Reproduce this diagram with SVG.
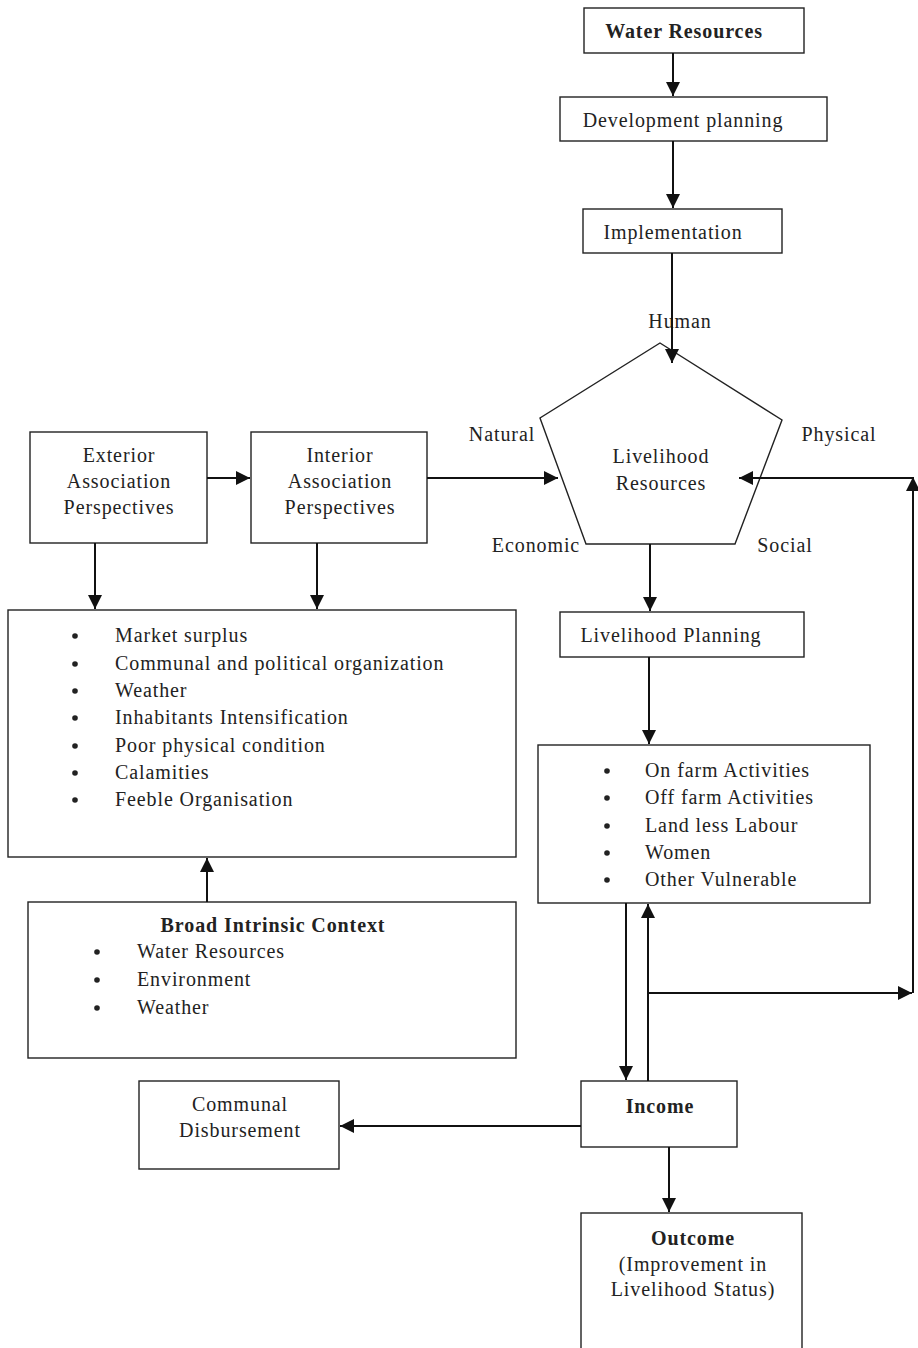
<svg xmlns="http://www.w3.org/2000/svg" width="918" height="1348" viewBox="0 0 918 1348">
<defs>
<marker id="ah" viewBox="0 0 10 10" refX="10" refY="5" markerWidth="14" markerHeight="14" markerUnits="userSpaceOnUse" orient="auto">
<path d="M0,0 L10,5 L0,10 Z" fill="#111"/>
</marker>
</defs>
<style>
.box{fill:#fff;stroke:#222;stroke-width:1.4}
text{font-family:"Liberation Serif","Times New Roman",serif;font-size:20px;letter-spacing:0.9px;fill:#222}
.c{text-anchor:middle}
.b{font-weight:bold}
.con{stroke:#111;stroke-width:2;fill:none}
.dot{fill:#222}
</style>
<rect width="918" height="1348" fill="#fff"/>
<g id="water-resources">
<rect class="box" x="584" y="8" width="220" height="45"/>
<text class="c b" x="684" y="38">Water Resources</text>
</g>
<g id="development-planning">
<rect class="box" x="560" y="97" width="267" height="44"/>
<text class="c" x="683" y="127">Development planning</text>
</g>
<g id="implementation">
<rect class="box" x="583" y="209" width="199" height="44"/>
<text class="c" x="673" y="239">Implementation</text>
</g>
<g id="livelihood-resources">
<polygon class="box" points="660,343 782,420 735,544 586,544 540,418"/>
<text class="c" x="661" y="463">Livelihood</text>
<text class="c" x="661" y="490">Resources</text>
<text class="c" x="680" y="328">Human</text>
<text class="c" x="502" y="441">Natural</text>
<text class="c" x="839" y="441">Physical</text>
<text class="c" x="536" y="552">Economic</text>
<text class="c" x="785" y="552">Social</text>
</g>
<g id="exterior">
<rect class="box" x="30" y="432" width="177" height="111"/>
<text class="c" x="119" y="462">Exterior</text>
<text class="c" x="119" y="488">Association</text>
<text class="c" x="119" y="514">Perspectives</text>
</g>
<g id="interior">
<rect class="box" x="251" y="432" width="176" height="111"/>
<text class="c" x="340" y="462">Interior</text>
<text class="c" x="340" y="488">Association</text>
<text class="c" x="340" y="514">Perspectives</text>
</g>
<g id="factors">
<rect class="box" x="8" y="610" width="508" height="247"/>
<circle class="dot" cx="75" cy="636" r="2.8"/><text x="115" y="642">Market surplus</text>
<circle class="dot" cx="75" cy="664" r="2.8"/><text x="115" y="670">Communal and political organization</text>
<circle class="dot" cx="75" cy="691" r="2.8"/><text x="115" y="697">Weather</text>
<circle class="dot" cx="75" cy="718" r="2.8"/><text x="115" y="724">Inhabitants Intensification</text>
<circle class="dot" cx="75" cy="746" r="2.8"/><text x="115" y="752">Poor physical condition</text>
<circle class="dot" cx="75" cy="773" r="2.8"/><text x="115" y="779">Calamities</text>
<circle class="dot" cx="75" cy="800" r="2.8"/><text x="115" y="806">Feeble Organisation</text>
</g>
<g id="broad-context">
<rect class="box" x="28" y="902" width="488" height="156"/>
<text class="c b" x="273" y="932">Broad Intrinsic Context</text>
<circle class="dot" cx="97" cy="952" r="2.8"/><text x="137" y="958">Water Resources</text>
<circle class="dot" cx="97" cy="980" r="2.8"/><text x="137" y="986">Environment</text>
<circle class="dot" cx="97" cy="1008" r="2.8"/><text x="137" y="1014">Weather</text>
</g>
<g id="livelihood-planning">
<rect class="box" x="560" y="612" width="244" height="45"/>
<text class="c" x="671" y="642">Livelihood Planning</text>
</g>
<g id="activities">
<rect class="box" x="538" y="745" width="332" height="158"/>
<circle class="dot" cx="607" cy="771" r="2.8"/><text x="645" y="777">On farm Activities</text>
<circle class="dot" cx="607" cy="798" r="2.8"/><text x="645" y="804">Off farm Activities</text>
<circle class="dot" cx="607" cy="826" r="2.8"/><text x="645" y="832">Land less Labour</text>
<circle class="dot" cx="607" cy="853" r="2.8"/><text x="645" y="859">Women</text>
<circle class="dot" cx="607" cy="880" r="2.8"/><text x="645" y="886">Other Vulnerable</text>
</g>
<g id="income">
<rect class="box" x="581" y="1081" width="156" height="66"/>
<text class="c b" x="660" y="1113">Income</text>
</g>
<g id="communal-disbursement">
<rect class="box" x="139" y="1081" width="200" height="88"/>
<text class="c" x="240" y="1111">Communal</text>
<text class="c" x="240" y="1137">Disbursement</text>
</g>
<g id="outcome">
<rect class="box" x="581" y="1213" width="221" height="140"/>
<text class="c b" x="693" y="1245">Outcome</text>
<text class="c" x="693" y="1271">(Improvement in</text>
<text class="c" x="693" y="1296">Livelihood Status)</text>
</g>
<g id="connectors">
<line class="con" x1="673" y1="53" x2="673" y2="96" marker-end="url(#ah)"/>
<line class="con" x1="673" y1="141" x2="673" y2="208" marker-end="url(#ah)"/>
<line class="con" x1="672" y1="253" x2="672" y2="363" marker-end="url(#ah)"/>
<line class="con" x1="207" y1="478" x2="250" y2="478" marker-end="url(#ah)"/>
<line class="con" x1="427" y1="478" x2="558" y2="478" marker-end="url(#ah)"/>
<line class="con" x1="95" y1="543" x2="95" y2="609" marker-end="url(#ah)"/>
<line class="con" x1="317" y1="543" x2="317" y2="609" marker-end="url(#ah)"/>
<line class="con" x1="650" y1="544" x2="650" y2="611" marker-end="url(#ah)"/>
<line class="con" x1="649" y1="657" x2="649" y2="744" marker-end="url(#ah)"/>
<line class="con" x1="207" y1="902" x2="207" y2="858" marker-end="url(#ah)"/>
<line class="con" x1="626" y1="903" x2="626" y2="1080" marker-end="url(#ah)"/>
<line class="con" x1="648" y1="1081" x2="648" y2="904" marker-end="url(#ah)"/>
<line class="con" x1="648" y1="993" x2="912" y2="993" marker-end="url(#ah)"/>
<line class="con" x1="913" y1="993" x2="913" y2="477" marker-end="url(#ah)"/>
<line class="con" x1="913" y1="478" x2="739" y2="478" marker-end="url(#ah)"/>
<line class="con" x1="581" y1="1126" x2="340" y2="1126" marker-end="url(#ah)"/>
<line class="con" x1="669" y1="1147" x2="669" y2="1212" marker-end="url(#ah)"/>
</g>
</svg>
